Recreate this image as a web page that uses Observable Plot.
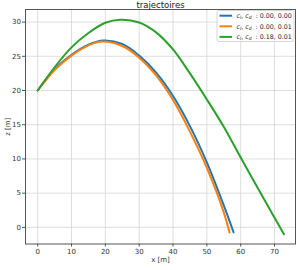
<!DOCTYPE html>
<html>
<head>
<meta charset="utf-8">
<script src="https://cdn.jsdelivr.net/npm/d3@7"></script>
<script src="https://cdn.jsdelivr.net/npm/@observablehq/plot@0.6"></script>
<style>
  html, body { margin: 0; padding: 0; background: #fff; }
  svg { display: block; }
</style>
</head>
<body>
<div id="chart"></div>
<script>
const title = "trajectoires";
const xLabel = "x [m]";
const zLabel = "z [m]";
const xTicks = [0, 10, 20, 30, 40, 50, 60, 70];
const zTicks = [0, 5, 10, 15, 20, 25, 30];

const clValues = ["0.00", "0.00", "0.18"];
const cdValues = ["0.00", "0.01", "0.01"];
const colors = ["#1f77b4", "#ff7f0e", "#2ca02c"];

const xBlue = [0, 5, 10, 15, 19.5, 25, 30, 35, 40, 45, 50, 55, 57.9];
const zBlue = [20, 23.1, 25.2, 26.7, 27.3, 26.8, 25.1, 22.6, 19.2, 14.8, 9.5, 3.2, -0.73];

const xOrange = [0, 5, 10, 15, 19.1, 25, 30, 35, 40, 45, 50, 55, 56.7];
const zOrange = [20, 23.0, 25.1, 26.6, 27.15, 26.5, 24.8, 22.2, 18.6, 14.0, 8.7, 2.2, -0.75];

const xGreen = [0, 5, 10, 15, 20, 24.4, 30, 35, 40, 45, 50, 55, 60, 65, 70, 72.8];
const zGreen = [20, 23.4, 26.3, 28.4, 29.9, 30.35, 29.95, 28.5, 26.0, 22.5, 18.7, 14.7, 10.2, 5.8, 1.4, -1.0];

const series = [
  {xs: xBlue, zs: zBlue},
  {xs: xOrange, zs: zOrange},
  {xs: xGreen, zs: zGreen}
];
const rows = series.flatMap((s, i) => s.xs.map((x, j) => ({x, z: s.zs[j], k: i})));

const font = "DejaVu Sans, sans-serif";

const svg = Plot.plot({
  width: 300,
  height: 270,
  marginLeft: 25,
  marginRight: 5,
  marginTop: 9,
  marginBottom: 26.5,
  style: {fontFamily: font, background: "#fff", color: "#333"},
  x: {domain: [-3.6, 76.2], label: null},
  y: {domain: [-2.43, 31.84], label: null},
  marks: [
    Plot.gridX(xTicks, {stroke: "#d6d6d6", strokeOpacity: 1, strokeWidth: 0.8}),
    Plot.gridY(zTicks, {stroke: "#d6d6d6", strokeOpacity: 1, strokeWidth: 0.8}),
    ...series.map((s, i) => Plot.line(rows.filter(r => r.k === i), {
      x: "x", y: "z", stroke: colors[i], strokeWidth: 2, curve: "catmull-rom"
    })),
    Plot.frame({stroke: "#555", strokeWidth: 1}),
    Plot.axisX(xTicks, {tickSize: 3, tickPadding: 2, fontSize: 7, label: null, stroke: "#555"}),
    Plot.axisY(zTicks, {tickSize: 3, tickPadding: 1.5, fontSize: 7, label: null, stroke: "#555"}),
    Plot.text([title], {frameAnchor: "top", dy: -4.5, lineAnchor: "middle", fontSize: 8.5, fill: "#222"}),
    Plot.text([xLabel], {frameAnchor: "bottom", dy: 16, lineAnchor: "middle", fontSize: 7, fill: "#333"}),
    Plot.text([zLabel], {frameAnchor: "left", dx: -18, rotate: -90, lineAnchor: "middle", textAnchor: "middle", fontSize: 7, fill: "#333"})
  ]
});

// Legend
const g = d3.select(svg).append("g").attr("font-family", font).attr("text-anchor", "start");
g.append("rect")
  .attr("x", 217).attr("y", 10.5).attr("width", 77).attr("height", 31)
  .attr("rx", 2).attr("fill", "#fff").attr("fill-opacity", 0.85)
  .attr("stroke", "#cccccc").attr("stroke-width", 0.8);
clValues.forEach((cl, i) => {
  const y = 15.7 + i * 10.6;
  g.append("line")
    .attr("x1", 219.5).attr("x2", 232).attr("y1", y).attr("y2", y)
    .attr("stroke", colors[i]).attr("stroke-width", 2);
  const t = g.append("text")
    .attr("x", 236.5).attr("y", y).attr("dy", "0.35em")
    .attr("text-anchor", "start")
    .attr("font-size", 6.3).attr("fill", "#222");
  t.append("tspan").attr("font-style", "italic").text("c");
  t.append("tspan").attr("font-size", 4.5).attr("font-style", "italic").attr("dy", 1.2).text("l");
  t.append("tspan").attr("dy", -1.2).text(", ");
  t.append("tspan").attr("font-style", "italic").text("c");
  t.append("tspan").attr("font-size", 4.5).attr("font-style", "italic").attr("dy", 1.2).text("d");
  t.append("tspan").attr("dy", -1.2).text("  : " + cl + ", " + cdValues[i]);
});

document.getElementById("chart").appendChild(svg);
</script>
</body>
</html>
